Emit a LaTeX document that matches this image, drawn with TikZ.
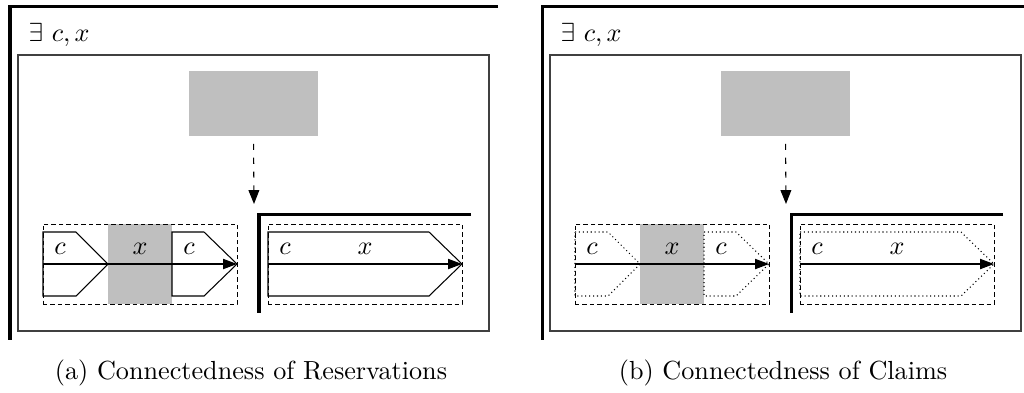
\documentclass[tikz,border=0pt]{standalone}
\usetikzlibrary{arrows.meta,fit}
\begin{document}
\begin{tikzpicture}[x=0.382pt,y=-0.382pt,
  frame/.style={line width=1.15pt},
  inner/.style={line width=0.4pt, draw=black!75},
  fillbox/.style={fill=gray!50, draw=none, inner sep=0pt, outer sep=0pt},
  dashbox/.style={draw, line width=0.38pt, inner sep=0pt, outer sep=0pt,
    dash pattern=on 1.7pt off 1.15pt},
  conn/.style={line width=0.42pt, dash pattern=on 2.3pt off 3pt,
    -{Triangle[length=5.3pt,width=4.1pt]}},
  tip/.style={line width=0.42pt, -{Triangle[length=5.3pt,width=3.9pt]}},
  solidout/.style={line width=0.4pt},
  dotout/.style={line width=0.4pt, dash pattern=on 0.4pt off 1.1pt},
  lbl/.style={inner sep=0pt}]
\useasboundingbox (0,0) rectangle (1024,392);

% one panel: #1 horizontal offset, #2 name prefix, #3 outline style, #4 caption
\newcommand\drawpanel[4]{%
\begin{scope}[shift={(#1,0)}]
  \draw[frame] (498,6) -| (10,340);
  \draw[inner] (18,55) rectangle (489,331);
  \node[lbl, anchor=base west] (#2q) at (28,41) {$\exists\ c, x$};
  % source block and the step down to the combined segment
  \node[fillbox, fit={(189,71) (318,136)}] (#2src) {};
  \coordinate (#2tgt) at (254,204);
  \draw[conn, shorten <=3pt] (#2src.south) -- (#2tgt);
  \draw[frame] (471,214) -| (259,313);
  % split segment: c, x, c
  \node[fillbox, fit={(108,224) (172,304)}] (#2mid) {};
  \draw[#3] (43,232) -- (76,232) -- (108,264) -- (76,296) -- (43,296) -- cycle;
  \draw[#3] (172,232) -- (204,232) -- (237,264) -- (204,296) -- (172,296) -- cycle;
  \coordinate (#2a0) at (43,264);
  \coordinate (#2a1) at (237,264);
  \draw[tip] (#2a0) -- (#2a1);
  \node[dashbox, fit={(43,224) (237,304)}] (#2seg) {};
  \node[lbl] (#2c1) at (60,249) {$c$};
  \node[lbl] (#2x1) at (140,249) {$x$};
  \node[lbl] (#2c2) at (189,249) {$c$};
  % joined segment
  \draw[#3] (268,232) -- (429,232) -- (462,264) -- (429,296) -- (268,296) -- cycle;
  \coordinate (#2b0) at (268,264);
  \coordinate (#2b1) at (462,264);
  \draw[tip] (#2b0) -- (#2b1);
  \node[dashbox, fit={(268,224) (462,304)}] (#2whole) {};
  \node[lbl] (#2c3) at (285,249) {$c$};
  \node[lbl] (#2x3) at (365,249) {$x$};
  \node[anchor=base] (#2cap) at (251,379) {#4};
\end{scope}}

\drawpanel{0}{ra}{solidout}{(a) Connectedness of Reservations}
\drawpanel{532}{cb}{dotout}{(b) Connectedness of Claims}
\end{tikzpicture}
\end{document}
